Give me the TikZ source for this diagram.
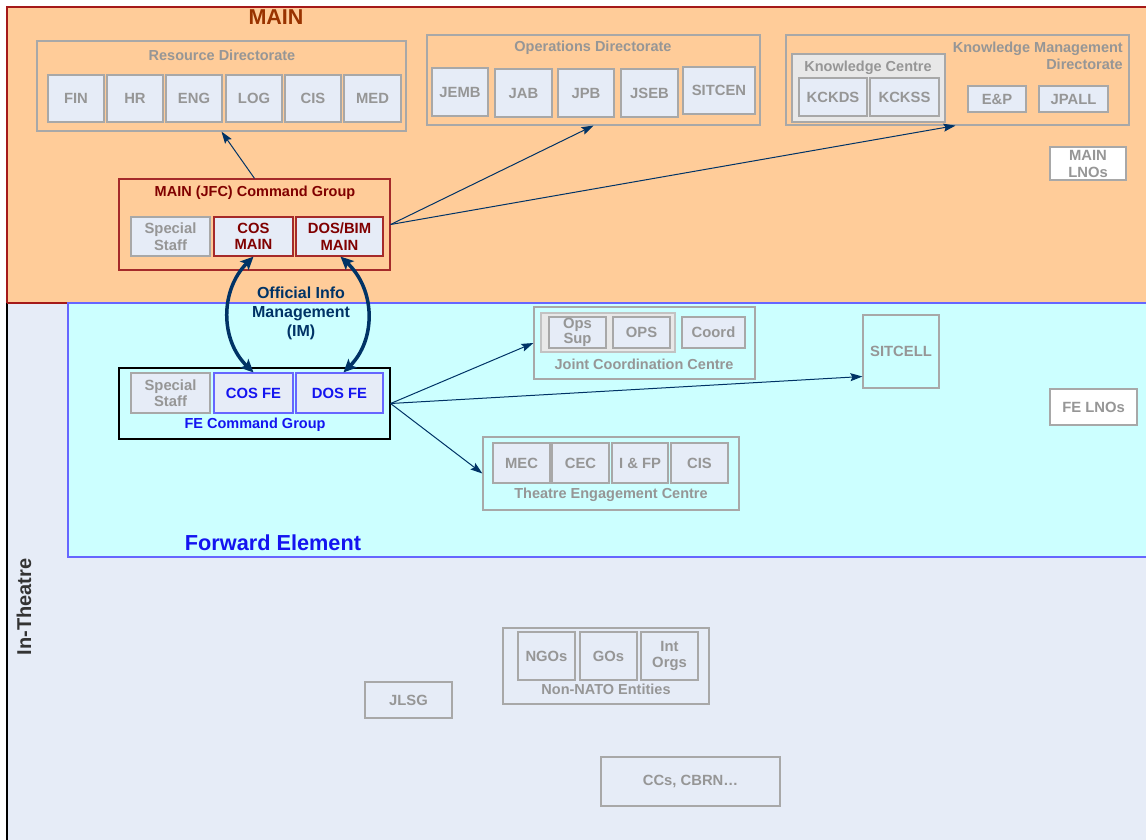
\documentclass[tikz,border=0pt]{standalone}
\usepackage{fontspec}
\setmainfont{Liberation Sans}
\usetikzlibrary{arrows.meta}

\definecolor{mainfill}{RGB}{255,204,153}
\definecolor{mainedge}{RGB}{165,25,25}
\definecolor{lav}{RGB}{230,236,247}
\definecolor{fefill}{RGB}{204,255,255}
\definecolor{feedge}{RGB}{102,102,255}
\definecolor{txtgray}{RGB}{150,150,150}
\definecolor{boxgray}{RGB}{168,168,168}
\definecolor{navy}{RGB}{0,51,102}
\definecolor{dred}{RGB}{128,0,0}
\definecolor{cgred}{RGB}{165,42,42}
\definecolor{mainlbl}{RGB}{153,51,0}
\definecolor{feblue}{RGB}{20,20,240}
\definecolor{kcgray}{RGB}{232,232,232}
\definecolor{itgray}{RGB}{51,51,51}

\tikzset{
  wh/.style 2 args={minimum width=#1pt, minimum height=#2pt},
  grp/.style={draw=boxgray, line width=1.2pt, inner sep=0pt},
  sub/.style={draw=boxgray, fill=lav, line width=1.2pt, text=txtgray,
    font=\bfseries\fontsize{14.8}{16.5}\selectfont, align=center, inner sep=0pt},
  ttl/.style={text=txtgray, font=\bfseries\fontsize{14.5}{17}\selectfont, inner sep=0pt, align=center},
  plain/.style={draw=boxgray, fill=white, line width=1.2pt, text=txtgray,
    font=\bfseries\fontsize{14.8}{17}\selectfont, align=center, inner sep=0pt},
  link/.style={draw=navy, line width=1pt, -{Stealth[length=12pt,width=8pt,inset=2pt]}},
  imlink/.style={draw=navy, line width=3.5pt, {Stealth[length=13pt,width=12pt,inset=3pt]}-{Stealth[length=13pt,width=12pt,inset=3pt]}},
}

\begin{document}
\begin{tikzpicture}[x=1pt,y=-1pt]
  \path[use as bounding box] (0,0) rectangle (1146,840);
  \clip (0,0) rectangle (1146,840);
  \fill[white] (0,0) rectangle (1146,840);

  % headquarters area (MAIN)
  \path[fill=mainfill, draw=mainedge, line width=1.5pt] (7,7) rectangle (1160,303);
  % in-theatre area
  \path[fill=lav] (7,303) rectangle (1160,850);
  \draw[black, line width=1.5pt] (7,303) -- (7,850);
  \draw[mainedge, line width=1.5pt] (7,303) -- (68,303);
  % forward element area
  \path[fill=fefill, draw=feedge, line width=1.5pt] (68,303) rectangle (1160,557);

  % area titles
  \node[font=\bfseries\fontsize{21.5}{24}\selectfont, text=mainlbl] (mainlabel) at (276,17) {MAIN};
  \node[font=\bfseries\fontsize{21.7}{24}\selectfont, text=feblue] (felabel) at (273,543) {Forward Element};
  \node[rotate=90, font=\bfseries\fontsize{20}{22}\selectfont, text=itgray] (itlabel) at (24,607) {In-Theatre};

  % Resource Directorate
  \node[grp, wh={369}{90}] (rd) at (221.5,86) {};
  \node[ttl] (rdt) at (222,55) {Resource Directorate};
  \node[sub, wh={56}{47}] (fin) at (76,98.5) {FIN};
  \node[sub, wh={56}{47}] (hr)  at (135,98.5) {HR};
  \node[sub, wh={56}{47}] (eng) at (194,98.5) {ENG};
  \node[sub, wh={56}{47}] (log) at (254,98.5) {LOG};
  \node[sub, wh={56}{47}] (cisr) at (313,98.5) {CIS};
  \node[sub, wh={57}{47}] (med) at (372.5,98.5) {MED};

  % Operations Directorate
  \node[grp, wh={333}{90}] (od) at (593.5,80) {};
  \node[ttl] (odt) at (593,48) {Operations Directorate};
  \node[sub, wh={56}{48}] (jemb) at (460,92) {JEMB};
  \node[sub, wh={57}{48}] (jab) at (523.5,93) {JAB};
  \node[sub, wh={56}{48}] (jpb) at (586,93) {JPB};
  \node[sub, wh={57}{48}] (jseb) at (649.5,93) {JSEB};
  \node[sub, wh={72}{47}] (sitcen) at (719,90.5) {SITCEN};

  % Knowledge Management Directorate
  \node[grp, wh={343}{90}] (kmd) at (957.5,80) {};
  \node[ttl, align=right, anchor=north east] (kmdt) at (1123,42) {Knowledge Management\\Directorate};
  \node[grp, fill=kcgray, wh={153}{68}] (kc) at (868.5,88) {};
  \node[ttl] (kct) at (868,68) {Knowledge Centre};
  \node[sub, wh={68}{38}] (kckds) at (833,97) {KCKDS};
  \node[sub, wh={69}{38}] (kckss) at (904.5,97) {KCKSS};
  \node[sub, wh={58}{26}] (ep) at (997,99) {E\&P};
  \node[sub, wh={69}{26}] (jpall) at (1073.5,99) {JPALL};
  \node[plain, wh={76}{33}] (mainlno) at (1088,163.5) {MAIN\\LNOs};

  % MAIN (JFC) Command Group
  \node[draw=cgred, line width=1.2pt, wh={271}{91}, inner sep=0pt] (mcg) at (254.5,224.5) {};
  \node[ttl, text=dred] (mcgt) at (255,193) {MAIN (JFC) Command Group};
  \node[sub, wh={79}{39}] (sstm) at (170.5,236.5) {Special\\Staff};
  \node[sub, draw=cgred, text=dred, wh={79}{39}] (cosmain) at (253.5,236.5) {COS\\MAIN};
  \node[sub, draw=cgred, text=dred, wh={87}{39}] (dosmain) at (339.5,236.5) {DOS/BIM\\MAIN};

  % FE Command Group
  \node[draw=black, line width=1.2pt, wh={271}{71}, inner sep=0pt] (fecg) at (254.5,403.5) {};
  \node[sub, wh={79}{40}] (sstf) at (170.5,393) {Special\\Staff};
  \node[sub, draw=feedge, text=feblue, wh={79}{40}] (cosfe) at (253.5,393) {COS FE};
  \node[sub, draw=feedge, text=feblue, wh={87}{40}] (dosfe) at (339.5,393) {DOS FE};
  \node[ttl, text=feblue] (fecgt) at (255,425) {FE Command Group};

  % Official information management
  \node[font=\bfseries\fontsize{16}{19}\selectfont, text=navy, align=center] (im) at (301,313) {Official Info\\Management\\(IM)};

  % Joint Coordination Centre
  \node[grp, wh={221}{72}] (jcc) at (644.5,343) {};
  \node[grp, draw=boxgray!70, fill=kcgray, wh={134}{39}] (jccin) at (608,332.5) {};
  \node[sub, wh={57}{31}, font=\bfseries\fontsize{14.8}{15}\selectfont] (opssup) at (577.5,332.5) {Ops\\Sup};
  \node[sub, wh={57}{31}] (ops) at (641.5,332.5) {OPS};
  \node[sub, wh={63}{31}] (coord) at (713.5,332.5) {Coord};
  \node[ttl] (jcct) at (644,364) {Joint Coordination Centre};

  \node[grp, wh={76}{73}, text=txtgray, font=\bfseries\fontsize{14.8}{17}\selectfont] (sitcell) at (901,351.5) {SITCELL};
  \node[plain, wh={87}{36}] (felno) at (1093.5,407) {FE LNOs};

  % Theatre Engagement Centre
  \node[grp, wh={256}{73}] (tec) at (611,473.5) {};
  \node[sub, wh={57}{40}] (mec) at (521.5,463) {MEC};
  \node[sub, wh={57}{40}] (cec) at (580.5,463) {CEC};
  \node[sub, wh={56}{40}] (ifp) at (640,463) {I \& FP};
  \node[sub, wh={57}{40}] (cist) at (699.5,463) {CIS};
  \node[ttl] (tect) at (611,495) {Theatre Engagement Centre};

  % Non-NATO Entities
  \node[grp, wh={206}{76}] (nne) at (606,666) {};
  \node[sub, fill=none, wh={57}{48}] (ngo) at (546.5,656) {NGOs};
  \node[sub, fill=none, wh={57}{48}] (gos) at (608.5,656) {GOs};
  \node[sub, fill=none, wh={57}{48}] (intorg) at (669.5,656) {Int\\Orgs};
  \node[ttl] (nnet) at (606,689) {Non-NATO Entities};

  \node[sub, fill=none, wh={87}{36}] (jlsg) at (408.5,700) {JLSG};
  \node[sub, fill=none, wh={179}{49}] (ccs) at (690.5,781.5) {CCs, CBRN…};

  % tasking links from the command groups
  \draw[link] (mcg.north) -- (rd.south);
  \draw[link] (mcg.east) -- (od.south);
  \draw[link] (mcg.east) -- ([xshift=-2pt]kmd.south);
  \draw[link] (fecg.east) -- (jcc.west);
  \draw[link] (fecg.east) -- ([yshift=-25pt]sitcell.west);
  \draw[link] (fecg.east) -- (tec.west);

  % official information management channels
  \draw[imlink] (cosmain.south) .. controls (220,290) and (220,340) .. (cosfe.north);
  \draw[imlink] ([xshift=1pt]dosmain.south) .. controls (376,290) and (376,340) .. ([xshift=4pt]dosfe.north);
\end{tikzpicture}
\end{document}
